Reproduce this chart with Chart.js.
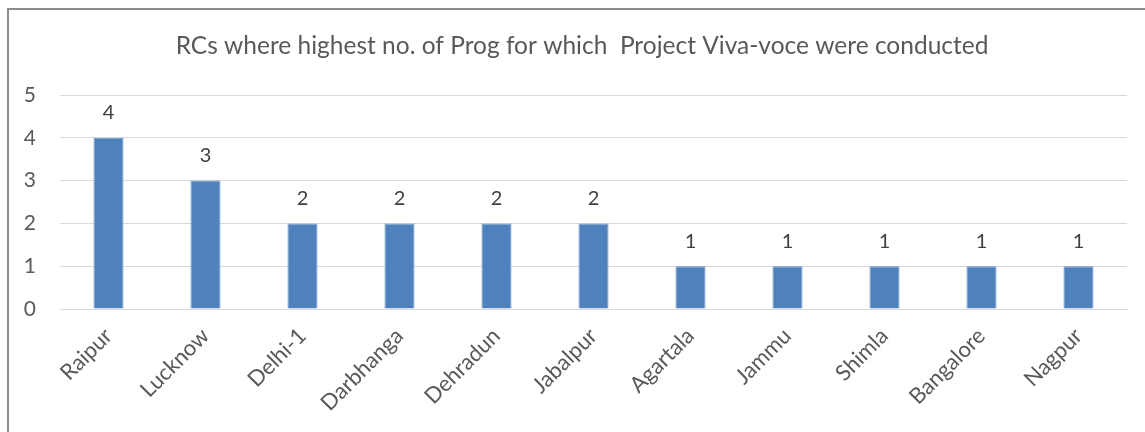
<!DOCTYPE html>
<html>
<head>
<meta charset="utf-8">
<script src="https://cdn.jsdelivr.net/npm/chart.js@4.4.0/dist/chart.umd.min.js"></script>
<style>
  html, body { margin: 0; padding: 0; background: #fff; }
  #wrap { width: 1145px; height: 432px; }
</style>
</head>
<body>
<div id="wrap"><canvas id="myChart" width="1145" height="432"></canvas></div>
<script>
var chartTitle = "RCs where highest no. of Prog for which  Project Viva-voce were conducted";
var xValues = ["Raipur", "Lucknow", "Delhi-1", "Darbhanga", "Dehradun", "Jabalpur", "Agartala", "Jammu", "Shimla", "Bangalore", "Nagpur"];
var yValues = [4, 3, 2, 2, 2, 2, 1, 1, 1, 1, 1];
var yTicks = [0, 1, 2, 3, 4, 5];

var fontFam = "Lato, 'Open Sans', sans-serif";

// frame + title + value labels
var extras = {
    id: "extras",
    beforeDraw: function(chart) {
        var ctx = chart.ctx;
        ctx.save();
        ctx.strokeStyle = "#8c8c8c";
        ctx.lineWidth = 2;
        ctx.beginPath();
        ctx.moveTo(8, 440);
        ctx.lineTo(8, 9);
        ctx.lineTo(1150, 9);
        ctx.stroke();
        ctx.fillStyle = "#595959";
        ctx.font = "24.5px " + fontFam;
        ctx.textAlign = "center";
        ctx.textBaseline = "middle";
        ctx.fillText(chartTitle, 582, 46);
        ctx.restore();
    },
    afterDatasetsDraw: function(chart) {
        var ctx = chart.ctx;
        var meta = chart.getDatasetMeta(0);
        ctx.save();
        ctx.fillStyle = "#404040";
        ctx.font = "20px " + fontFam;
        ctx.textAlign = "center";
        ctx.textBaseline = "middle";
        meta.data.forEach(function(bar, i) {
            ctx.fillText(yValues[i], bar.x, bar.y - 25);
        });
        ctx.restore();
    }
};

new Chart("myChart", {
    type: "bar",
    data: {
        labels: xValues,
        datasets: [{
            data: yValues,
            backgroundColor: "#4F81BD",
            borderColor: "#6f97c9",
            borderWidth: 1,
            categoryPercentage: 1,
            barPercentage: 0.31
        }]
    },
    options: {
        responsive: false,
        animation: false,
        layout: {padding: {left: 0, right: 18, top: 95, bottom: 0}},
        plugins: {
            legend: {display: false},
            title: {display: false},
            tooltip: {enabled: false}
        },
        scales: {
            x: {
                afterFit: function(axis) { axis.height = 123; },
                grid: {display: false},
                border: {display: true, color: "#d9d9d9", width: 1},
                ticks: {
                    color: "#595959",
                    font: {family: fontFam, size: 22},
                    minRotation: 45,
                    maxRotation: 45,
                    padding: 6
                }
            },
            y: {
                min: 0,
                max: 5,
                afterFit: function(axis) { axis.width = 60; },
                afterBuildTicks: function(axis) {
                    axis.ticks = yTicks.map(function(v) { return {value: v}; });
                },
                grid: {color: "#d9d9d9", lineWidth: 1, drawTicks: false},
                border: {display: false},
                ticks: {
                    color: "#595959",
                    font: {family: fontFam, size: 21},
                    padding: 24,
                    align: "center"
                }
            }
        }
    },
    plugins: [extras]
});
</script>
</body>
</html>
